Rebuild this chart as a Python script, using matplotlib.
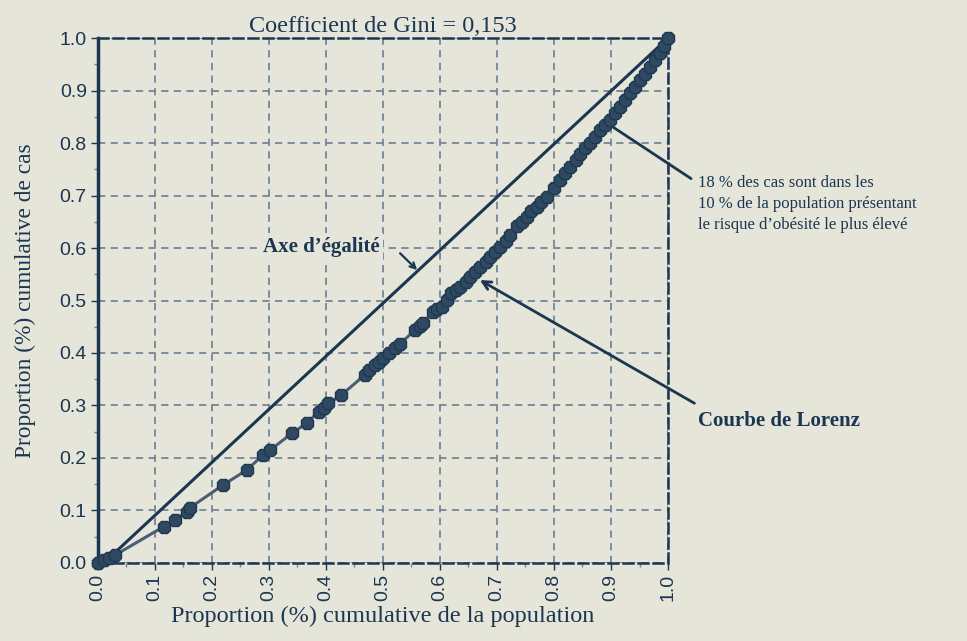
import matplotlib
matplotlib.use("Agg")
import matplotlib.pyplot as plt
from matplotlib.ticker import MultipleLocator

# ── 1. Data ──────────────────────────────────────────────────────────────────

pop_share = [0.0, 0.01, 0.02, 0.03, 0.115, 0.135, 0.156, 0.161, 0.22, 0.261,
             0.29, 0.302, 0.34, 0.366, 0.387, 0.396, 0.404, 0.427, 0.468, 0.476,
             0.486, 0.493, 0.50, 0.51, 0.521, 0.53, 0.556, 0.565, 0.571, 0.588,
             0.595, 0.603, 0.612, 0.62, 0.628, 0.635, 0.645, 0.653, 0.662, 0.67,
             0.68, 0.688, 0.697, 0.705, 0.715, 0.723, 0.735, 0.743, 0.752, 0.76,
             0.77, 0.778, 0.787, 0.80, 0.81, 0.82, 0.828, 0.838, 0.846, 0.855,
             0.863, 0.872, 0.881, 0.89, 0.898, 0.907, 0.916, 0.925, 0.933, 0.942,
             0.951, 0.96, 0.968, 0.977, 0.986, 0.993, 1.0]
case_share = [0.0, 0.006, 0.01, 0.015, 0.069, 0.082, 0.098, 0.105, 0.149, 0.177,
              0.206, 0.215, 0.247, 0.266, 0.288, 0.296, 0.304, 0.32, 0.358, 0.367,
              0.377, 0.383, 0.39, 0.40, 0.409, 0.417, 0.444, 0.451, 0.457, 0.479,
              0.483, 0.488, 0.501, 0.514, 0.52, 0.526, 0.536, 0.545, 0.555, 0.564,
              0.574, 0.583, 0.593, 0.602, 0.614, 0.625, 0.641, 0.65, 0.66, 0.67,
              0.679, 0.688, 0.698, 0.715, 0.73, 0.742, 0.755, 0.768, 0.78, 0.79,
              0.80, 0.812, 0.825, 0.835, 0.844, 0.857, 0.869, 0.882, 0.895, 0.907,
              0.92, 0.932, 0.945, 0.958, 0.971, 0.985, 1.0]

equal_x = [0.03, 1.0]
equal_y = [0.02, 1.0]

gini_title = "Coefficient de Gini = 0,153"
ticks = [round(i * 0.1, 1) for i in range(11)]
tick_labels = [f"{t:.1f}" for t in ticks]

# ── 2. Style ──────────────────────────────────────────────────────────────────

bg = "#e5e5d9"
navy = "#1b3651"
grid_col = "#73879a"
serif = ["Liberation Serif", "DejaVu Serif"]
sans = ["Liberation Sans", "DejaVu Sans"]

fig = plt.figure(figsize=(9.67, 6.41), dpi=100, facecolor=bg)
ax = fig.add_axes([0.1013, 0.1217, 0.5895, 0.819])
ax.set_facecolor(bg)

ax.set_xlim(0, 1)
ax.set_ylim(0, 1)
ax.set_xticks(ticks)
ax.set_yticks(ticks)
ax.set_xticklabels(tick_labels, rotation=90, family=sans, fontsize=14, color=navy)
ax.set_yticklabels(tick_labels, family=sans, fontsize=14, color=navy)
ax.xaxis.set_minor_locator(MultipleLocator(0.05))
ax.yaxis.set_minor_locator(MultipleLocator(0.05))
ax.tick_params(which="major", length=5, width=1, color=navy, pad=3)
ax.tick_params(which="minor", length=3, width=1, color=grid_col)

ax.grid(True, which="major", linestyle=(0, (4, 3)), color=grid_col, linewidth=1.3)
ax.set_axisbelow(True)

for side in ["top", "right", "bottom"]:
    ax.spines[side].set_linestyle((0, (4, 2)))
    ax.spines[side].set_color(navy)
    ax.spines[side].set_linewidth(1.8)
ax.spines["left"].set_color(navy)
ax.spines["left"].set_linewidth(2.5)

# ── 3. Lines ──────────────────────────────────────────────────────────────────

ax.plot(equal_x, equal_y, color=navy, linewidth=2.2, zorder=3)
ax.plot(pop_share, case_share, color="#4a5f73", linewidth=2.2,
        marker="8", markersize=10, markerfacecolor="#2e4961",
        markeredgecolor="#1e3850", markeredgewidth=1, zorder=4, clip_on=False)

# ── 4. Text & annotations ─────────────────────────────────────────────────────

ax.set_title(gini_title, family=serif, fontsize=17.5, color=navy, pad=4)
ax.set_xlabel("Proportion (%) cumulative de la population", family=serif,
              fontsize=17.5, color=navy, labelpad=3)
ax.set_ylabel("Proportion (%) cumulative de cas", family=serif,
              fontsize=16.8, color=navy, labelpad=17)

ax.text(0.391, 0.602, "Axe d’égalité", family=serif, fontsize=15,
        fontweight="bold", color=navy, ha="center", va="center",
        bbox=dict(boxstyle="square,pad=0.2", fc=bg, ec="none"), zorder=5)
ax.annotate("", xy=(0.56, 0.558), xytext=(0.53, 0.59),
            arrowprops=dict(arrowstyle="->", color=navy, lw=1.6,
                            shrinkA=0, shrinkB=0))

ax.annotate("Courbe de Lorenz", xy=(0.67, 0.539), xytext=(1.052, 0.27),
            family=serif, fontsize=15, fontweight="bold", color=navy,
            ha="left", va="center", annotation_clip=False,
            arrowprops=dict(arrowstyle="->", color=navy, lw=2,
                            shrinkA=0, shrinkB=0,
                            relpos=(-0.02, 1.4)))

ax.annotate("18 % des cas sont dans les\n10 % de la population présentant\n"
            "le risque d’obésité le plus élevé",
            xy=(0.904, 0.83), xytext=(1.052, 0.74),
            family=serif, fontsize=12, color=navy, ha="left", va="top",
            linespacing=1.45, annotation_clip=False,
            arrowprops=dict(arrowstyle="-", color=navy, lw=2,
                            shrinkA=0, shrinkB=0, relpos=(-0.03, 0.93)))

fig.savefig("out.png", dpi=100, facecolor=bg)
